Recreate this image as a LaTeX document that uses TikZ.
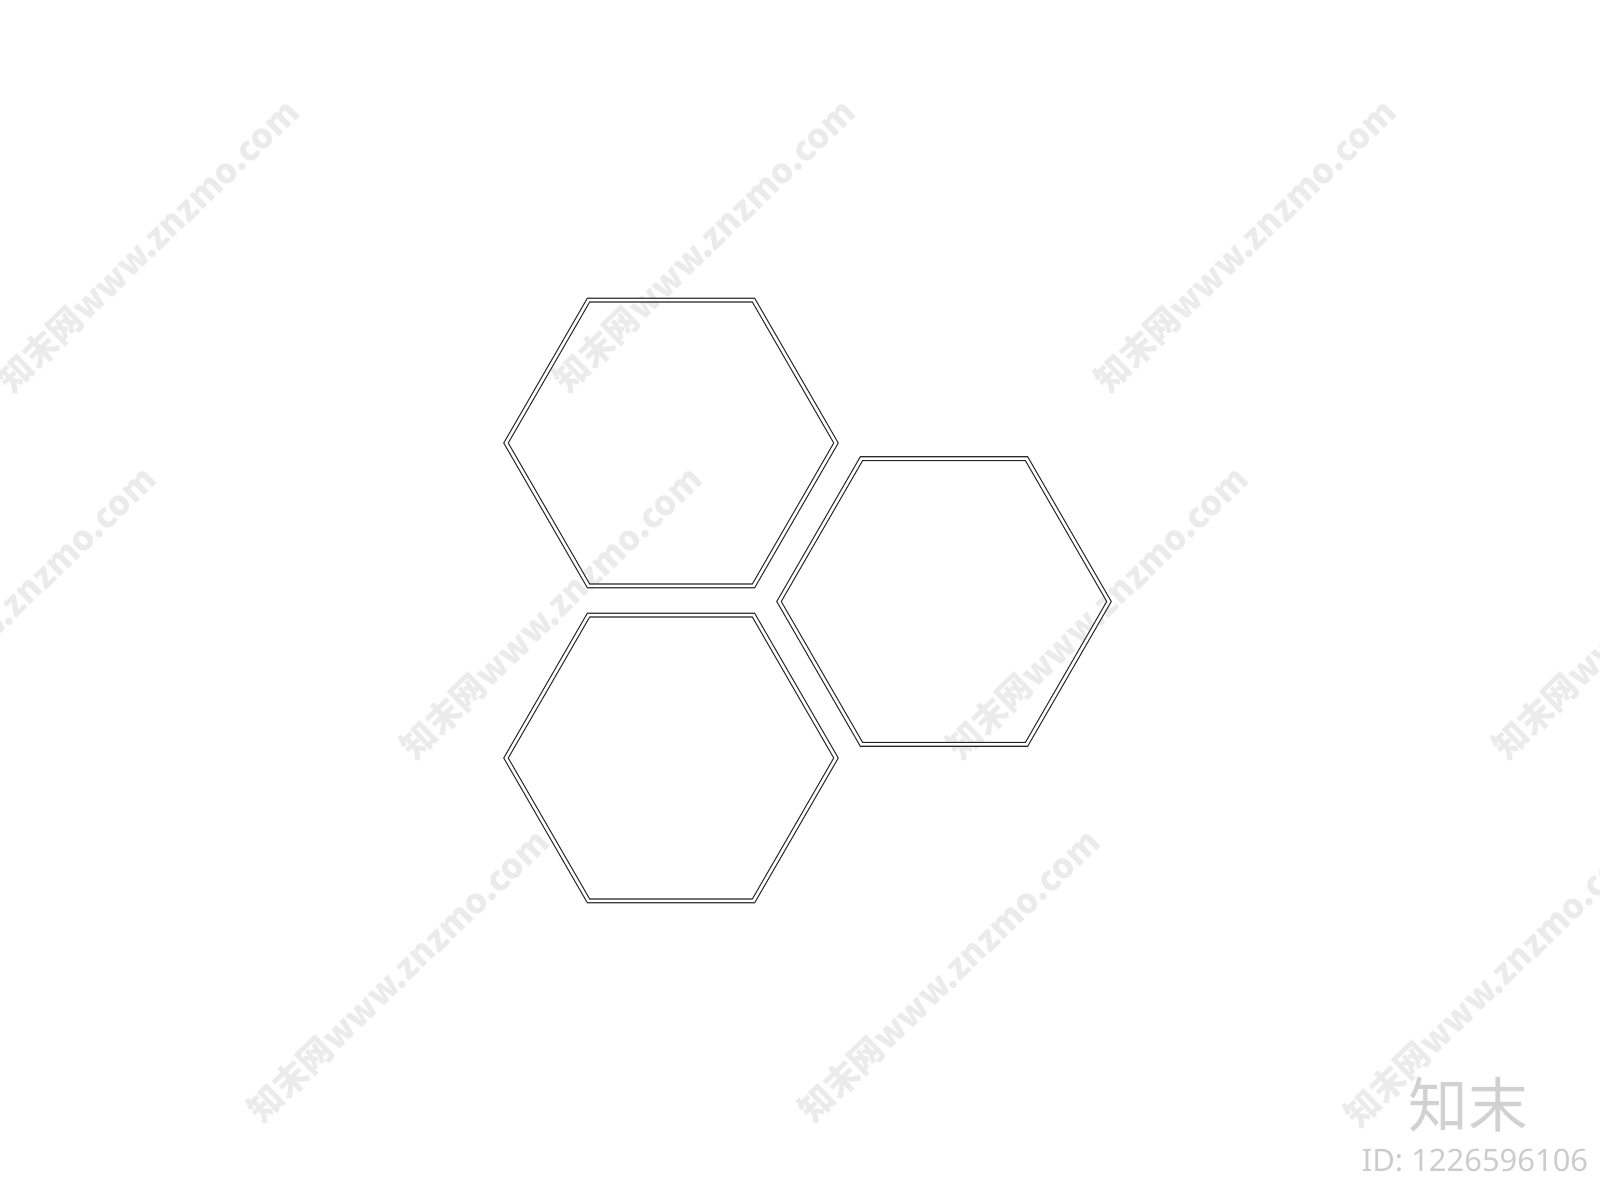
\documentclass[tikz,border=0pt]{standalone}
\usepackage{fontspec}
\setsansfont{Noto Sans}
\newfontfamily\cjk{Noto Sans CJK SC}
\tikzset{
    hexline/.style={draw=black!85, line width=.65pt, double=white, double distance=1.5pt, line join=miter},
    wmark/.style={text=black!8, font=\cjk\bfseries\fontsize{19.5pt}{23pt}\selectfont, rotate=44, inner sep=0pt},
    logotext/.style={text=black!18, font=\cjk\fontsize{34pt}{40pt}\selectfont, inner sep=0pt},
    idtext/.style={text=black!20, font=\sffamily\fontsize{17.6pt}{20pt}\selectfont, inner sep=0pt}
}
\begin{document}
\begin{tikzpicture}[x=0.02cm,y=-0.02cm]
\useasboundingbox (0,0) rectangle (1600,1200);
\begin{scope}
    \foreach \x/\y [count=\i] in {148/245,704/245,1245/245,5/612,551/612,1097/612,1643/612,398/975,949/975,1495/980}
    {
        \node[wmark] (wm\i) at (\x,\y) {知末网www.znzmo.com};
    }
\end{scope}
\begin{scope}
    \foreach \n/\x/\y in {top/671/443,bottom/671/758,right/944/601.5}
    {
        \coordinate (hex-\n) at (\x,\y);
        \draw[hexline] (hex-\n) ++(0:165) -- ++(120:165) -- ++(180:165) -- ++(240:165) -- ++(300:165) -- ++(0:165) -- cycle;
    }
\end{scope}
\node[logotext] (logo) at (1468,1105) {知末};
\node[idtext] (id) at (1475,1160) {ID: 1226596106};
\end{tikzpicture}
\end{document}
